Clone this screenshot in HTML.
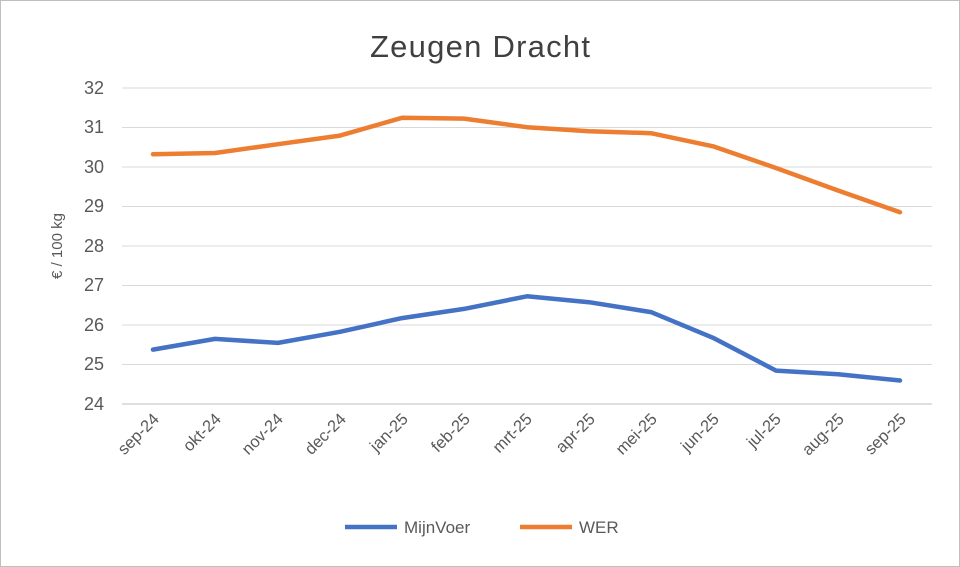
<!DOCTYPE html>
<html><head><meta charset="utf-8"><style>
html,body{margin:0;padding:0;background:#fff;}
svg{display:block;font-family:"Liberation Sans",sans-serif;}
</style></head><body>
<svg width="960" height="567" viewBox="0 0 960 567">
<rect x="0.5" y="0.5" width="959" height="566" fill="#fff" stroke="#bfbfbf"/>
<text x="480" y="57" text-anchor="middle" font-size="31" fill="#404040" textLength="220">Zeugen Dracht</text>
<g stroke="#d9d9d9" stroke-width="1">
<line x1="122" x2="932" y1="88" y2="88"/>
<line x1="122" x2="932" y1="127.5" y2="127.5"/>
<line x1="122" x2="932" y1="167" y2="167"/>
<line x1="122" x2="932" y1="206.5" y2="206.5"/>
<line x1="122" x2="932" y1="246" y2="246"/>
<line x1="122" x2="932" y1="285.5" y2="285.5"/>
<line x1="122" x2="932" y1="325" y2="325"/>
<line x1="122" x2="932" y1="364.5" y2="364.5"/>
<line x1="122" x2="932" y1="404" y2="404" stroke="#bfbfbf"/>
</g>
<g font-size="18" fill="#595959" text-anchor="end">
<text x="104" y="94">32</text><text x="104" y="133">31</text><text x="104" y="173">30</text>
<text x="104" y="212">29</text><text x="104" y="252">28</text><text x="104" y="291">27</text>
<text x="104" y="331">26</text><text x="104" y="370">25</text><text x="104" y="410">24</text>
</g>
<text transform="translate(62,246) rotate(-90)" text-anchor="middle" font-size="15" fill="#595959">€ / 100 kg</text>
<g font-size="16.5" fill="#595959" text-anchor="end">
<text transform="translate(160,420) rotate(-45)">sep-24</text>
<text transform="translate(222,420) rotate(-45)">okt-24</text>
<text transform="translate(284,420) rotate(-45)">nov-24</text>
<text transform="translate(347,420) rotate(-45)">dec-24</text>
<text transform="translate(409,420) rotate(-45)">jan-25</text>
<text transform="translate(471,420) rotate(-45)">feb-25</text>
<text transform="translate(533,420) rotate(-45)">mrt-25</text>
<text transform="translate(596,420) rotate(-45)">apr-25</text>
<text transform="translate(658,420) rotate(-45)">mei-25</text>
<text transform="translate(720,420) rotate(-45)">jun-25</text>
<text transform="translate(782,420) rotate(-45)">jul-25</text>
<text transform="translate(845,420) rotate(-45)">aug-25</text>
<text transform="translate(907,420) rotate(-45)">sep-25</text>
</g>
<polyline fill="none" stroke="#4472c4" stroke-width="4.5" stroke-linejoin="round" stroke-linecap="round"
points="153,349.6 215,338.9 278,342.9 340,331.8 402,318.1 464,308.9 527,296.3 589,302.2 651,312.1 713,337.8 776,370.6 838,374.2 900,380.5"/>
<polyline fill="none" stroke="#ed7d31" stroke-width="4.5" stroke-linejoin="round" stroke-linecap="round"
points="153,154.2 215,153 278,144.2 340,135.6 402,117.8 464,118.6 527,127.2 589,131.2 651,133.2 713,146.3 776,168 838,190.5 900,212.2"/>
<line x1="345" x2="397" y1="527" y2="527" stroke="#4472c4" stroke-width="4.5"/>
<text x="404" y="533" font-size="17" fill="#595959">MijnVoer</text>
<line x1="520" x2="572" y1="527" y2="527" stroke="#ed7d31" stroke-width="4.5"/>
<text x="579" y="533" font-size="17" fill="#595959">WER</text>
</svg>
</body></html>
